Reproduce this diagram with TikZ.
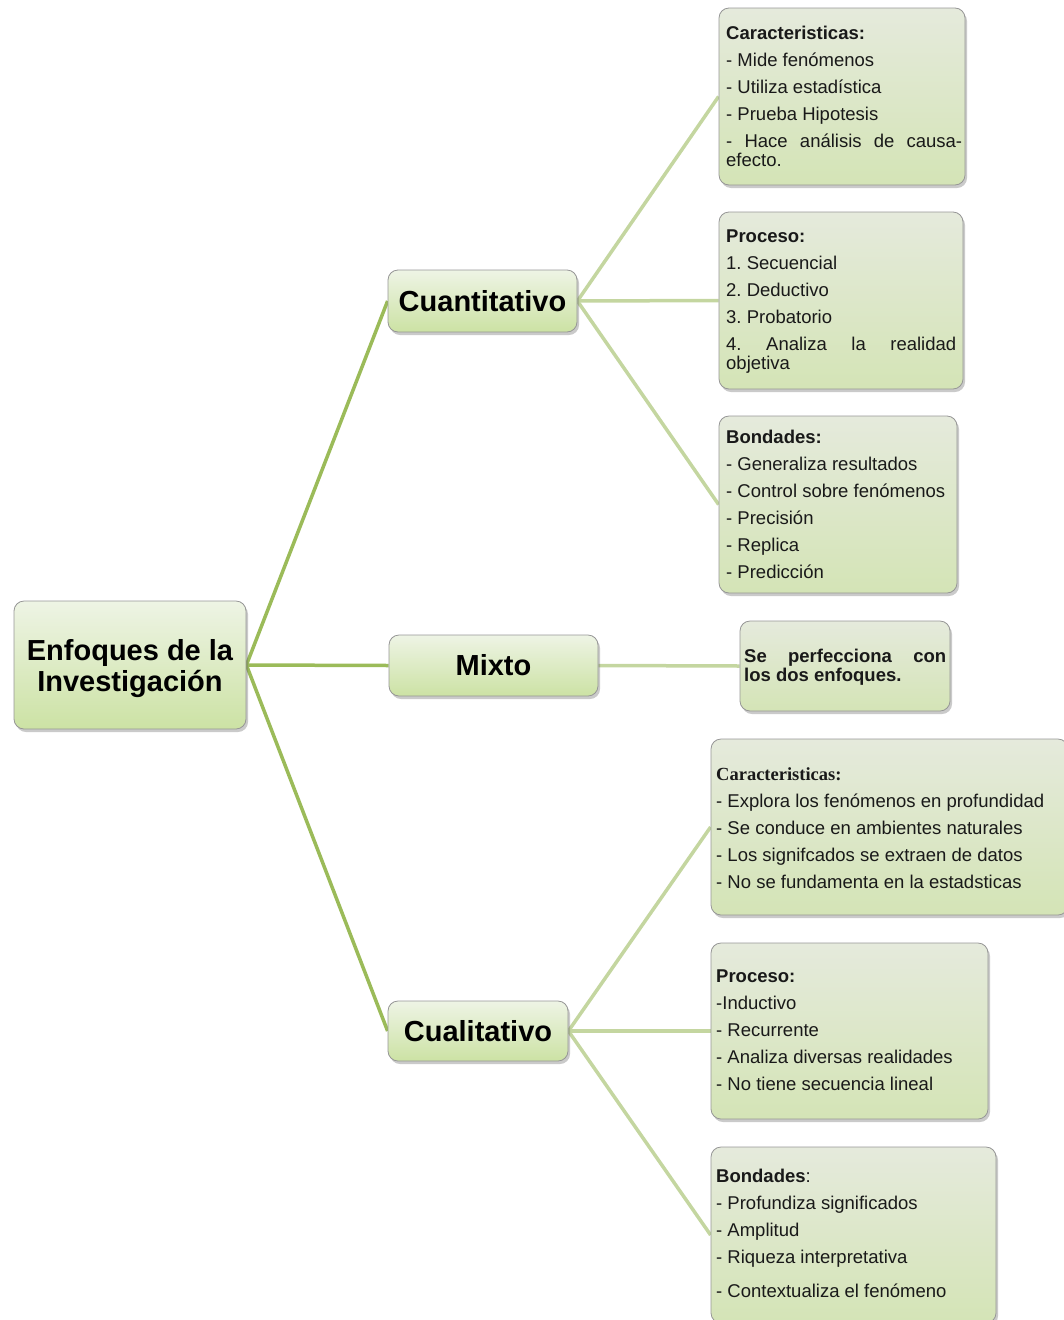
\documentclass[tikz,border=0pt]{standalone}
\usepackage{fontspec}
\setmainfont{Liberation Sans}
\newfontfamily\timesf{Liberation Serif}
\usetikzlibrary{shadows,backgrounds}
\definecolor{lineA}{RGB}{155,187,89}
\definecolor{lineB}{RGB}{196,214,160}
\definecolor{leafTop}{RGB}{229,234,220}
\definecolor{leafBot}{RGB}{212,228,182}
\definecolor{mainTop}{RGB}{238,244,229}
\definecolor{mainBot}{RGB}{204,226,164}
\definecolor{bord}{RGB}{150,150,150}
\frenchspacing
\newcommand\jline[2]{\makebox[#1][s]{#2}}
\tikzset{
  boxbase/.style={draw=bord, line width=0.8pt, rounded corners=10pt, inner sep=0pt,
    drop shadow={shadow xshift=2pt, shadow yshift=-3pt, opacity=0.35, fill=black!60}},
  mainbox/.style={boxbase, top color=mainTop, bottom color=mainBot, align=center,
    font=\fontsize{29}{31}\selectfont\bfseries},
  maintext/.style={inner sep=0pt, align=center, font=\fontsize{29}{31}\selectfont\bfseries},
  leafbox/.style={boxbase, top color=leafTop, bottom color=leafBot},
  leaftext/.style={anchor=north west, inner sep=0pt, align=left,
    font=\fontsize{18.5}{27}\selectfont, text=black!90},
  conA/.style={draw=lineA, line width=3.5pt},
  conB/.style={draw=lineB, line width=3.5pt},
}
\begin{document}
\begin{tikzpicture}[x=1pt,y=-1pt]
\useasboundingbox (0,0) rectangle (1063,1320);
% main nodes
\node[mainbox, minimum width=232pt, minimum height=128pt] (root) at (130,665) {};
\node[maintext] (roottext) at (130,669) {Enfoques de la\\Investigación};
\node[mainbox, minimum width=189pt, minimum height=62pt] (cuant) at (482.5,301) {Cuantitativo};
\node[mainbox, minimum width=209pt, minimum height=61pt] (mixto) at (493.5,665.5) {Mixto};
\node[mainbox, minimum width=180pt, minimum height=60pt] (cuali) at (478,1031) {Cualitativo};
% leaf boxes
\node[leafbox, minimum width=246pt, minimum height=177pt] (c1) at (842,96.5) {};
\node[leafbox, minimum width=244pt, minimum height=177pt] (c2) at (841,300.5) {};
\node[leafbox, minimum width=238pt, minimum height=177pt] (c3) at (838,504.5) {};
\node[leafbox, minimum width=210pt, minimum height=90pt] (m1) at (845,666) {};
\node[leafbox, minimum width=357pt, minimum height=176pt] (q1) at (889.5,827) {};
\node[leafbox, minimum width=277pt, minimum height=176pt] (q2) at (849.5,1031) {};
\node[leafbox, minimum width=285pt, minimum height=176pt] (q3) at (853.5,1235) {};
% leaf texts
\node[leaftext] (c1t) at (726,26) {\textbf{Caracteristicas:}\\- Mide fenómenos\\- Utiliza estadística\\- Prueba Hipotesis\\\jline{236pt}{- Hace análisis de causa-}\\[-8pt]efecto.};
\node[leaftext] (c2t) at (726,230) {\textbf{Proceso:}\\1. Secuencial\\2. Deductivo\\3. Probatorio\\\jline{230pt}{4. Analiza la realidad}\\[-8pt]objetiva};
\node[leaftext] (c3t) at (726,430) {\textbf{Bondades:}\\- Generaliza resultados\\- Control sobre fenómenos\\- Precisión\\- Replica\\- Predicción};
\node[leaftext, font=\fontsize{18.5}{27}\selectfont\bfseries] (m1t) at (744,649) {\jline{202pt}{Se perfecciona con}\\[-8pt]los dos enfoques.};
\node[leaftext] (q1t) at (716,767) {{\timesf\bfseries Caracteristicas:}\\- Explora los fenómenos en profundidad\\- Se conduce en ambientes naturales\\- Los signifcados se extraen de datos\\- No se fundamenta en la estadsticas};
\node[leaftext] (q2t) at (716,970) {\textbf{Proceso:}\\-Inductivo\\- Recurrente\\- Analiza diversas realidades\\- No tiene secuencia lineal};
\node[leaftext] (q3t) at (716,1169) {\textbf{Bondades}:\\- Profundiza significados\\- Amplitud\\- Riqueza interpretativa\\[7pt]- Contextualiza el fenómeno};
% connectors
\begin{scope}[on background layer]
\draw[conA] (root.east) -- (cuant.west);
\draw[conA] (root.east) -- (mixto.west);
\draw[conA] (root.east) -- (cuali.west);
\draw[conB] (cuant.east) -- (c1.west);
\draw[conB] (cuant.east) -- (c2.west);
\draw[conB] (cuant.east) -- (c3.west);
\draw[conB] (mixto.east) -- (m1.west);
\draw[conB] (cuali.east) -- (q1.west);
\draw[conB] (cuali.east) -- (q2.west);
\draw[conB] (cuali.east) -- (q3.west);
\end{scope}
\end{tikzpicture}
\end{document}
